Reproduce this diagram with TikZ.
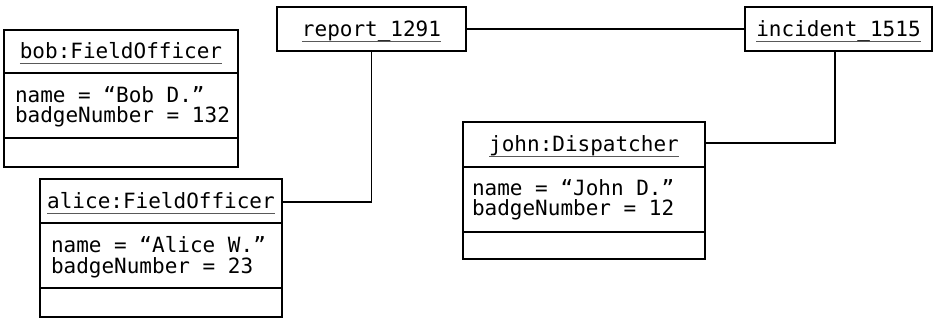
\documentclass[tikz,border=0pt]{standalone}
\usepackage{fontspec}
\setmonofont{DejaVu Sans Mono}
\begin{document}
\begin{tikzpicture}[x=1pt,y=-1pt,line width=1.1pt,
  box/.style={draw,rectangle,inner sep=0pt,outer sep=0pt,anchor=north west},
  title/.style={inner sep=0pt,outer sep=0pt,anchor=base,font=\fontsize{21}{20}\ttfamily},
  attr/.style={inner sep=0pt,outer sep=0pt,anchor=base west,font=\fontsize{21}{20}\ttfamily},
  ul/.style={line width=1.1pt,gray!70!black},
  conn/.style={draw,line width=1.1pt}]
\useasboundingbox (0,0) rectangle (934,320);
% bob
\node[box,minimum width=234pt,minimum height=137pt] (bob) at (4,30) {};
\draw ([yshift=-43pt]bob.north west) -- ([yshift=-43pt]bob.north east);
\draw ([yshift=-108pt]bob.north west) -- ([yshift=-108pt]bob.north east);
\node[title] (bobt) at ([yshift=-29pt]bob.north) {bob:FieldOfficer};
\draw[ul] ([yshift=-4.5pt]bobt.base west) -- ([yshift=-4.5pt]bobt.base east);
\node[attr] (boba) at ([xshift=11pt,yshift=-73pt]bob.north west) {name = “Bob D.”};
\node[attr] (bobb) at ([xshift=11pt,yshift=-93pt]bob.north west) {badgeNumber = 132};
% alice
\node[box,minimum width=242pt,minimum height=138pt] (alice) at (40,179) {};
\draw ([yshift=-44pt]alice.north west) -- ([yshift=-44pt]alice.north east);
\draw ([yshift=-109pt]alice.north west) -- ([yshift=-109pt]alice.north east);
\node[title] (alicet) at ([yshift=-30pt]alice.north) {alice:FieldOfficer};
\draw[ul] ([yshift=-4.5pt]alicet.base west) -- ([yshift=-4.5pt]alicet.base east);
\node[attr] (alicea) at ([xshift=11pt,yshift=-74pt]alice.north west) {name = “Alice W.”};
\node[attr] (aliceb) at ([xshift=11pt,yshift=-94pt]alice.north west) {badgeNumber = 23};
\coordinate (aliceR) at ([yshift=-23pt]alice.north east);
% john
\node[box,minimum width=242pt,minimum height=137pt] (john) at (463,122) {};
\draw ([yshift=-45pt]john.north west) -- ([yshift=-45pt]john.north east);
\draw ([yshift=-110pt]john.north west) -- ([yshift=-110pt]john.north east);
\node[title] (johnt) at ([yshift=-30pt]john.north) {john:Dispatcher};
\draw[ul] ([yshift=-4.5pt]johnt.base west) -- ([yshift=-4.5pt]johnt.base east);
\node[attr] (johna) at ([xshift=9pt,yshift=-74pt]john.north west) {name = “John D.”};
\node[attr] (johnb) at ([xshift=9pt,yshift=-94pt]john.north west) {badgeNumber = 12};
\coordinate (johnR) at ([yshift=-21pt]john.north east);
% report
\node[box,minimum width=189pt,minimum height=44pt] (report) at (277,7) {};
\node[title] (reportt) at ([yshift=-30pt]report.north) {report\_1291};
\draw[ul] ([yshift=-4.5pt]reportt.base west) -- ([yshift=-4.5pt]reportt.base east);
% incident
\node[box,minimum width=187pt,minimum height=44pt] (incident) at (745,7) {};
\node[title] (incidentt) at ([yshift=-30pt]incident.north) {incident\_1515};
\draw[ul] ([yshift=-4.5pt]incidentt.base west) -- ([yshift=-4.5pt]incidentt.base east);
\coordinate (incB) at ([xshift=-3.5pt]incident.south);
% connectors
\draw[conn] (report.east) -- (incident.west);
\draw[conn] (report.south) |- (aliceR);
\draw[conn] (incB) |- (johnR);
\end{tikzpicture}
\end{document}
